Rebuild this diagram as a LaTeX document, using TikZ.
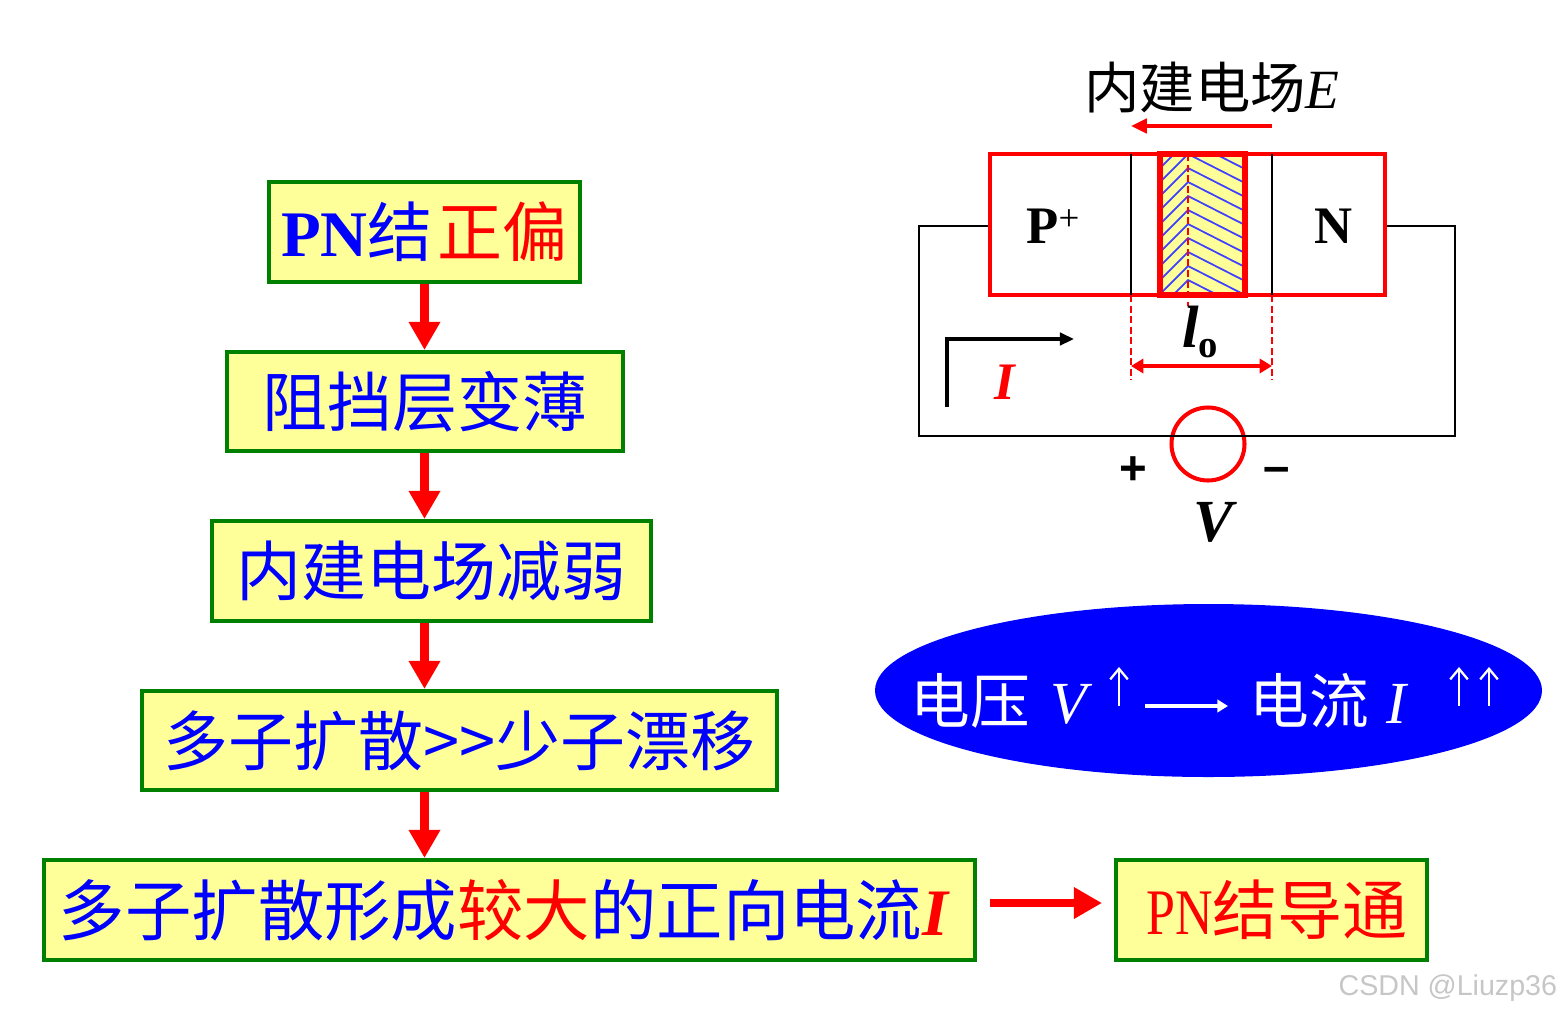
\documentclass[tikz,border=0pt]{standalone}
\usepackage{fontspec}
\setmainfont{Liberation Serif}
\setsansfont{Liberation Sans}
\newfontfamily\cjk{Noto Sans CJK SC}
\usetikzlibrary{arrows.meta,shapes.geometric}
\definecolor{boxgreen}{RGB}{0,128,0}
\definecolor{boxyellow}{RGB}{255,255,153}
\definecolor{hatchblue}{RGB}{64,64,255}
\tikzset{
  flowbox/.style={draw=boxgreen, line width=2.3pt, fill=boxyellow, inner sep=0pt,
    text=blue, font=\cjk\fontsize{37}{40}\selectfont},
  flowarrow/.style={red, line width=5pt, -{Triangle[length=16pt,width=17pt]}},
  guide/.style={red, line width=0.8pt, dash pattern=on 4pt off 2pt},
}

\begin{document}
\begin{tikzpicture}[x=0.02cm, y=-0.02cm, line width=1pt]
  \useasboundingbox (0,0) rectangle (1563,1015);

  % ---------- flow boxes ----------
  \node[flowbox, minimum width=311*0.02cm, minimum height=100*0.02cm] (forward) at (424.5,232)
    {\textbf{\rmfamily PN}结\hspace{0.1cm}\textcolor{red}{正偏}};
  \node[flowbox, minimum width=396*0.02cm, minimum height=99*0.02cm] (thin) at (425,401.5) {阻挡层变薄};
  \node[flowbox, minimum width=439*0.02cm, minimum height=100*0.02cm] (weak) at (431.5,571) {内建电场减弱};
  \node[flowbox, minimum width=635*0.02cm, minimum height=99*0.02cm] (diffuse) at (459.5,740.5) {多子扩散>>少子漂移};
  \node[flowbox, font=\cjk\fontsize{37.8}{40}\selectfont, minimum width=931*0.02cm, minimum height=100*0.02cm] (current) at (509.5,910)
    {多子扩散形成\textcolor{red}{较大}的正向电流\textcolor{red}{\rmfamily\bfseries\itshape I}\kern0.24cm};
  \node[flowbox, minimum width=311*0.02cm, minimum height=100*0.02cm, text=red] (conduct) at (1271.5,910)
    {\hspace{0.22cm}{\rmfamily\scalebox{0.8}[1]{PN}}结导通};

  % ---------- flow arrows ----------
  \draw[flowarrow] (forward.south) -- (forward.south |- thin.north);
  \draw[flowarrow] (forward.south |- thin.south) -- (forward.south |- weak.north);
  \draw[flowarrow] (forward.south |- weak.south) -- (forward.south |- diffuse.north);
  \draw[flowarrow] (forward.south |- diffuse.south) -- (forward.south |- current.north);
  \coordinate (outstart) at (990,903);
  \coordinate (outend) at (1102,903);
  \draw[flowarrow] (outstart) -- (outend);

  % ---------- junction ----------
  \node[draw=red, line width=2.6pt, minimum width=395*0.02cm, minimum height=141*0.02cm, inner sep=0pt] (junction) at (1187.5,224.5) {};
  \fill[boxyellow] (1160,154) rectangle (1245,295);
  \begin{scope}
    \clip (1160,154) rectangle (1243,295);
    \foreach \k in {-1,...,9}{
      \draw[hatchblue, line width=1pt] (1160,154+14*\k+28) -- (1188,154+14*\k) -- (1243,154+14*\k+28);
    }
  \end{scope}
  \draw[red, line width=3pt] (1160,154) rectangle (1245,295);
  \draw[guide] (1188,154) -- (1188,306);
  \draw (1131,154) -- (1131,295);
  \draw (1272,154) -- (1272,295);
  \draw[guide] (1131,295) -- (1131,380);
  \draw[guide] (1272,295) -- (1272,380);
  \draw[red, line width=1.9pt, {Triangle[length=7pt,width=8pt]}-{Triangle[length=7pt,width=8pt]}] (1131,366) -- (1272,366);
  \node[font=\bfseries\fontsize{30}{32}\selectfont] (pside) at (1053,226) {P\raisebox{7pt}{\fontsize{21}{22}\selectfont\mdseries +}};
  \node[font=\bfseries\fontsize{30}{32}\selectfont] (nside) at (1334,226) {N};
  \node[font=\bfseries\fontsize{34}{36}\selectfont] (width) at (1200,332) {\textit{l}\raisebox{-6pt}{\fontsize{22}{24}\selectfont o}};

  % ---------- built-in field ----------
  \node[font=\cjk\fontsize{31.5}{34}\selectfont] (field) at (1212,88) {内建电场\textit{\rmfamily E}};
  \draw[red, line width=2.3pt, -{Triangle[length=9pt,width=8pt]}] (1272,126) -- (1131,126);

  % ---------- circuit ----------
  \node[draw=red, circle, line width=2.3pt, minimum size=73*0.02cm, inner sep=0pt] (source) at (1208,444) {};
  \draw (junction.west |- pside) -- (919,226) -- (919,436) -- (1455,436) -- (1455,226) -- (junction.east |- nside);
  \draw[line width=2pt, -{Triangle[length=8pt,width=7pt]}] (947,407) -- (947,339) -- (1074,339);
  \node[red, font=\bfseries\itshape\fontsize{30}{32}\selectfont] (amp) at (1005,382) {I};
  \node[font=\sffamily\bfseries\fontsize{27}{30}\selectfont] (plus) at (1133,471) {+};
  \node[font=\sffamily\bfseries\fontsize{27}{30}\selectfont] (minus) at (1277,475) {–};
  \node[font=\bfseries\itshape\fontsize{34}{36}\selectfont] (volt) at (1213,522) {V};

  % ---------- relation ----------
  \node[ellipse, fill=blue, minimum width=667*0.02cm, minimum height=173*0.02cm, inner sep=0pt] (relation) at (1208.5,690.5) {};
  \node[white, anchor=west, inner sep=0pt, font=\cjk\fontsize{34}{36}\selectfont] (voltup) at (910,701) {电压\hspace{0.4cm}\textit{\rmfamily V}};
  \node[white, anchor=west, inner sep=0pt, font=\cjk\fontsize{34}{36}\selectfont] (currup) at (1249,701) {电流\hspace{0.35cm}\textit{\rmfamily I}};
  \foreach \x in {1119,1459,1489}{
    \draw[white, line width=1.3pt, -{Straight Barb[length=6pt,width=10pt]}] (\x,706) -- (\x,667);
  }
  \draw[white, line width=1.8pt, -{Triangle[length=6pt,width=7pt]}] (1145,706) -- (1228,706);

  \node[gray!45, inner sep=0pt, font=\sffamily\fontsize{16.3}{19}\selectfont, anchor=east] (mark) at (1558,988) {CSDN @Liuzp36};
\end{tikzpicture}
\end{document}
